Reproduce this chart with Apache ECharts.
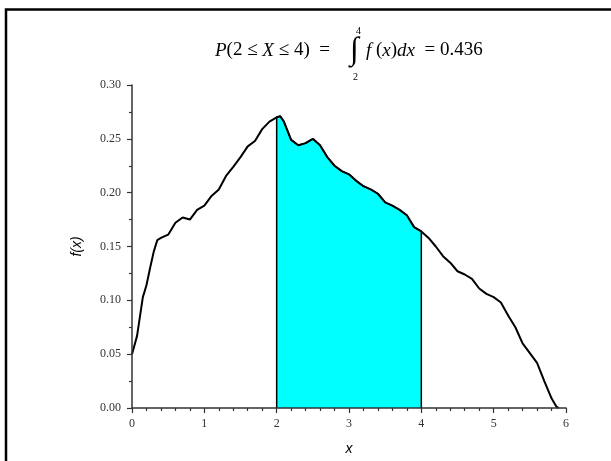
<!DOCTYPE html>
<html>
<head>
<meta charset="utf-8">
<script src="https://cdn.jsdelivr.net/npm/echarts@6/dist/echarts.min.js"></script>
<style>
  html, body { margin: 0; padding: 0; background: #fff; }
  #main { width: 611px; height: 461px; }
</style>
</head>
<body>
<div id="main"></div>
<script>
// density
var xValues = [0, 0.07, 0.15, 0.2, 0.25, 0.3, 0.35, 0.4, 0.5, 0.6, 0.7, 0.8, 0.9,
  1.0, 1.1, 1.2, 1.3, 1.4, 1.5, 1.6, 1.7, 1.8, 1.9,
  2.0, 2.05, 2.1, 2.2, 2.3, 2.4, 2.5, 2.6, 2.7, 2.8, 2.9,
  3.0, 3.1, 3.2, 3.3, 3.4, 3.5, 3.6, 3.7, 3.8, 3.9,
  4.0, 4.1, 4.2, 4.3, 4.4, 4.5, 4.6, 4.7, 4.8, 4.9,
  5.0, 5.1, 5.2, 5.3, 5.4, 5.5, 5.6, 5.7, 5.8, 5.87, 5.9];
var fValues = [0.050, 0.067, 0.103, 0.114, 0.130, 0.145, 0.156, 0.158, 0.161, 0.172, 0.177, 0.175, 0.184,
  0.188, 0.197, 0.203, 0.2155, 0.224, 0.233, 0.243, 0.248, 0.259, 0.266,
  0.270, 0.271, 0.266, 0.249, 0.244, 0.246, 0.250, 0.244, 0.233, 0.225, 0.220,
  0.217, 0.211, 0.206, 0.203, 0.199, 0.191, 0.188, 0.184, 0.179, 0.168,
  0.164, 0.158, 0.150, 0.141, 0.135, 0.127, 0.124, 0.120, 0.111, 0.106,
  0.103, 0.098, 0.086, 0.075, 0.060, 0.051, 0.042, 0.025, 0.009, 0.001, 0.000];
var shadeFrom = 2;
var shadeTo = 4;

var curve = [];
var shade = [[shadeFrom, 0]];
for (var i = 0; i < xValues.length; i++) {
  curve.push([xValues[i], fValues[i]]);
  if (xValues[i] >= shadeFrom && xValues[i] <= shadeTo) {
    shade.push([xValues[i], fValues[i]]);
  }
}
shade.push([shadeTo, 0]);

var serif = '"Liberation Serif", "Times New Roman", serif';
var sans = '"Liberation Sans", Arial, sans-serif';

var chart = echarts.init(document.getElementById('main'));
var option = {
  animation: false,
  backgroundColor: '#fff',
  grid: { left: 132, right: 45, top: 85, bottom: 53 },
  graphic: [
    {
      type: 'rect',
      shape: { x: 6, y: 9.5, width: 700, height: 600 },
      style: { fill: 'none', stroke: '#000', lineWidth: 2.5 },
      silent: true
    },
    {
      type: 'text',
      left: 215, top: 41,
      style: {
        text: '{i|P}(2 ≤ {i|X} ≤ 4)  = ',
        font: '19px ' + serif,
        fill: '#000',
        rich: { i: { fontStyle: 'italic', fontSize: 19, fontFamily: serif } }
      }
    },
    {
      type: 'text',
      left: 350, top: 35,
      style: { text: '∫', font: '32px ' + serif, fill: '#000' }
    },
    {
      type: 'text',
      left: 356, top: 26,
      style: { text: '4', font: '10px ' + serif, fill: '#000' }
    },
    {
      type: 'text',
      left: 353, top: 72,
      style: { text: '2', font: '10px ' + serif, fill: '#000' }
    },
    {
      type: 'text',
      left: 366, top: 41,
      style: {
        text: '{i|f} ({i|x}){i|dx}  = 0.436',
        font: '19px ' + serif,
        fill: '#000',
        rich: { i: { fontStyle: 'italic', fontSize: 19, fontFamily: serif } }
      }
    }
  ],
  xAxis: {
    type: 'value',
    min: 0, max: 6, interval: 1,
    z: 5,
    name: 'x',
    nameLocation: 'middle',
    nameGap: 34,
    nameTextStyle: { fontFamily: sans, fontStyle: 'italic', fontSize: 14, color: '#000' },
    axisLine: { onZero: false, lineStyle: { color: '#333', width: 1.5 } },
    axisTick: { show: true, inside: false, length: 5, lineStyle: { color: '#333', width: 1.2 } },
    minorTick: { show: true, splitNumber: 5, length: 3, lineStyle: { color: '#333', width: 1.2 } },
    splitLine: { show: false },
    axisLabel: { fontFamily: serif, fontSize: 12, color: '#333', margin: 10 }
  },
  yAxis: {
    type: 'value',
    min: 0, max: 0.30, interval: 0.05,
    z: 5,
    name: 'f(x)',
    nameLocation: 'middle',
    nameGap: 48,
    nameRotate: 90,
    nameTextStyle: { fontFamily: sans, fontStyle: 'italic', fontSize: 14, color: '#000' },
    axisLine: { show: true, onZero: false, lineStyle: { color: '#333', width: 1.5 } },
    axisTick: { show: true, inside: false, length: 5, lineStyle: { color: '#333', width: 1.2 } },
    minorTick: { show: true, splitNumber: 2, length: 3, lineStyle: { color: '#333', width: 1.2 } },
    splitLine: { show: false },
    axisLabel: {
      fontFamily: serif, fontSize: 12, color: '#333', margin: 11,
      formatter: function (v) { return v.toFixed(2); }
    }
  },
  series: [
    {
      type: 'line',
      data: shade,
      symbol: 'none',
      smooth: false,
      z: 2,
      lineStyle: { color: '#000', width: 1.5 },
      areaStyle: { color: '#00ffff', opacity: 1 }
    },
    {
      type: 'line',
      data: curve,
      symbol: 'none',
      smooth: false,
      z: 3,
      lineStyle: { color: '#000', width: 2 }
    }
  ]
};
chart.setOption(option);
</script>
</body>
</html>
